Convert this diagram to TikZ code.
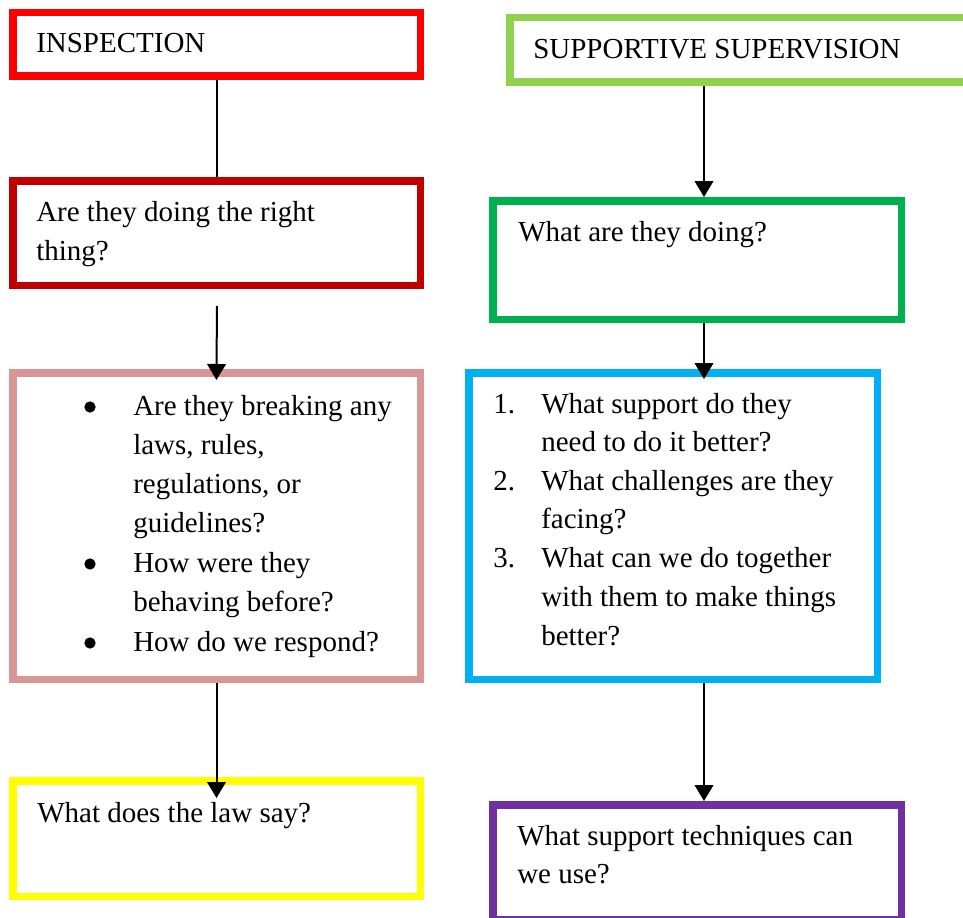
\documentclass[tikz,border=0pt]{standalone}
\usepackage{fontspec}
\setmainfont{Liberation Serif}
\usetikzlibrary{arrows.meta}

\definecolor{inspred}{HTML}{FF0000}
\definecolor{darkred}{HTML}{C00000}
\definecolor{rosebox}{HTML}{D99694}
\definecolor{yelbox}{HTML}{FFFF00}
\definecolor{limebox}{HTML}{92D050}
\definecolor{greenbox}{HTML}{00B050}
\definecolor{bluebox}{HTML}{00B0F0}
\definecolor{purplebox}{HTML}{7030A0}

\begin{document}
\begin{tikzpicture}[x=0.75pt,y=-0.75pt,
  box/.style={draw=#1, line width=5.625pt, rectangle, inner sep=0pt, fill=white},
  txt/.style={anchor=base west, inner sep=0pt, font=\fontsize{21.75pt}{29.25pt}\selectfont},
  bulletmark/.style={circle, fill=black, inner sep=0pt, minimum size=8.5pt},
  link/.style={line width=1.5pt, black},
  arr/.style={link, -{Triangle[width=14pt,length=12pt]}}]

\useasboundingbox (0,0) rectangle (963,917);
\clip (0,0) rectangle (963,917);
\fill[white] (0,0) rectangle (963,917);

% ---- left column: inspection ----
\node[box=inspred,  minimum width=305.625pt, minimum height=47.625pt]  (b1) at (216.5,44.5) {};
\node[box=darkred,  minimum width=305.625pt, minimum height=78.375pt]  (b2) at (216.5,233) {};
\node[box=rosebox,  minimum width=305.625pt, minimum height=229.875pt] (b3) at (216.5,526) {};
\node[box=yelbox,   minimum width=305.625pt, minimum height=86.625pt]  (b4) at (216.5,838.5) {};

% ---- right column: supportive supervision ----
\node[box=limebox,   minimum width=357.375pt, minimum height=48.375pt]  (r1) at (748,50) {};
\node[box=greenbox,  minimum width=306.375pt, minimum height=88.875pt]  (r2) at (697,260) {};
\node[box=bluebox,   minimum width=306.375pt, minimum height=229.875pt] (r3) at (673,526) {};
\node[box=purplebox, minimum width=306.375pt, minimum height=85.875pt]  (r4) at (697,862) {};

% ---- texts ----
\node[txt] (t1) at (36,53) {INSPECTION};
\node[txt] (t2a) at (36,221) {Are they doing the right};
\node[txt] (t2b) at (36,260) {thing?};

\node[bulletmark] (p1) at (90,407) {};
\node[bulletmark] (p2) at (90,564) {};
\node[bulletmark] (p3) at (90,643) {};
\node[txt] (t3a) at (133,415) {Are they breaking any};
\node[txt] (t3b) at (133,454) {laws, rules,};
\node[txt] (t3c) at (133,493) {regulations, or};
\node[txt] (t3d) at (133,532) {guidelines?};
\node[txt] (t3e) at (133,572) {How were they};
\node[txt] (t3f) at (133,611) {behaving before?};
\node[txt] (t3g) at (133,651) {How do we respond?};

\node[txt] (t4) at (37,822) {What does the law say?};

\node[txt] (s1) at (533,59) {SUPPORTIVE SUPERVISION};
\node[txt] (s2) at (518,241) {What are they doing?};

\node[txt] (n1) at (493,413) {1.};
\node[txt] (n2) at (493,490) {2.};
\node[txt] (n3) at (493,567) {3.};
\node[txt] (s3a) at (541,413) {What support do they};
\node[txt] (s3b) at (541,451) {need to do it better?};
\node[txt] (s3c) at (541,490) {What challenges are they};
\node[txt] (s3d) at (541,528) {facing?};
\node[txt] (s3e) at (541,567) {What can we do together};
\node[txt] (s3f) at (541,606) {with them to make things};
\node[txt] (s3g) at (541,645) {better?};

\node[txt] (s4a) at (517,845) {What support techniques can};
\node[txt] (s4b) at (517,883) {we use?};

% ---- connectors ----
\coordinate (a2) at (217,306);
\coordinate (rx) at (704,0);
\draw[link] (b1.south) -- (b2.north);
\draw[arr, shorten >=-8.25pt] (a2) -- (b3.north);
\draw[arr, shorten >=-15.75pt] (b3.south) -- (b4.north);

\draw[arr] (r1.south -| rx) -- (r2.north -| rx);
\draw[arr, shorten >=-7.5pt] (r2.south -| rx) -- (r3.north -| rx);
\draw[arr] (r3.south -| rx) -- (r4.north -| rx);
\end{tikzpicture}
\end{document}
